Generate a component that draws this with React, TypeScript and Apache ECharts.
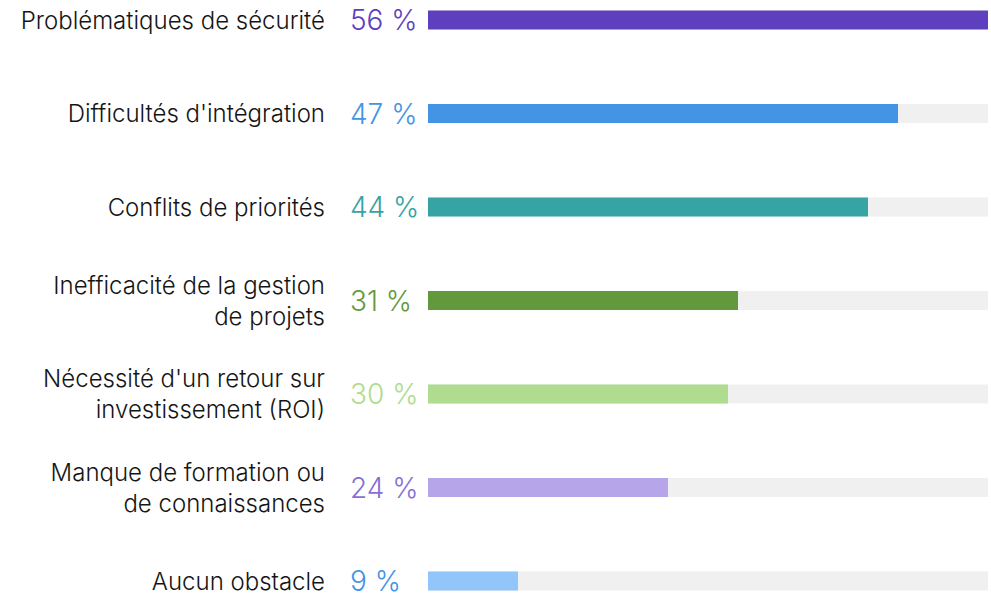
import React, { useEffect, useRef } from "react";
import * as echarts from "echarts";

const categories = [
  "Problématiques de sécurité",
  "Difficultés d'intégration",
  "Conflits de priorités",
  "Inefficacité de la gestion\nde projets",
  "Nécessité d'un retour sur\ninvestissement (ROI)",
  "Manque de formation ou\nde connaissances",
  "Aucun obstacle",
];
const values = [56, 47, 44, 31, 30, 24, 9];
const percentLabels = ["56 %", "47 %", "44 %", "31 %", "30 %", "24 %", "9 %"];
const barColors = ["#5e40be", "#4394e5", "#37a3a3", "#63993d", "#afdc8f", "#b6a6e9", "#92c5f9"];
const textColors = ["#5e40be", "#4394e5", "#37a3a3", "#63993d", "#afdc8f", "#876fd4", "#4394e5"];

const NAME_FONT = "Inter, 'Noto Sans', sans-serif";
const PCT_FONT = "Inter, 'Noto Sans', sans-serif";

export default function App() {
  const ref = useRef<HTMLDivElement>(null);
  useEffect(() => {
    if (!ref.current) return;
    const chart = echarts.init(ref.current, null, { renderer: "svg" });
    const rich: Record<string, any> = {};
    textColors.forEach((c, i) => {
      rich["c" + i] = { color: c, fontSize: 28, fontFamily: PCT_FONT, fontWeight: 300 };
    });
    chart.setOption({
      animation: false,
      grid: { left: 428, right: 3, top: 20, bottom: 18 },
      xAxis: { type: "value", min: 0, max: 56, show: false },
      yAxis: [
        {
          type: "category",
          data: categories,
          inverse: true,
          boundaryGap: false,
          axisLine: { show: false },
          axisTick: { show: false },
          splitLine: { show: false },
          axisLabel: {
            margin: 103,
            align: "right",
            color: "#151515",
            fontSize: 24,
            fontWeight: 300,
            lineHeight: 31,
            fontFamily: NAME_FONT,
          },
        },
        {
          type: "category",
          position: "left",
          data: percentLabels,
          inverse: true,
          boundaryGap: false,
          axisLine: { show: false },
          axisTick: { show: false },
          splitLine: { show: false },
          axisLabel: {
            margin: 78,
            align: "left",
            formatter: (v: string, i: number) => `{c${i}|${v}}`,
            rich,
          },
        },
      ],
      series: [
        {
          type: "bar",
          yAxisIndex: 0,
          barWidth: 19,
          data: values.map((v, i) => ({ value: v, itemStyle: { color: barColors[i] } })),
          showBackground: true,
          backgroundStyle: { color: "#f0f0f0" },
        },
      ],
    });
    return () => chart.dispose();
  }, []);
  return (
    <div
      ref={ref}
      style={{ position: "fixed", left: 0, top: 0, width: 991, height: 599, background: "#fff" }}
    />
  );
}
